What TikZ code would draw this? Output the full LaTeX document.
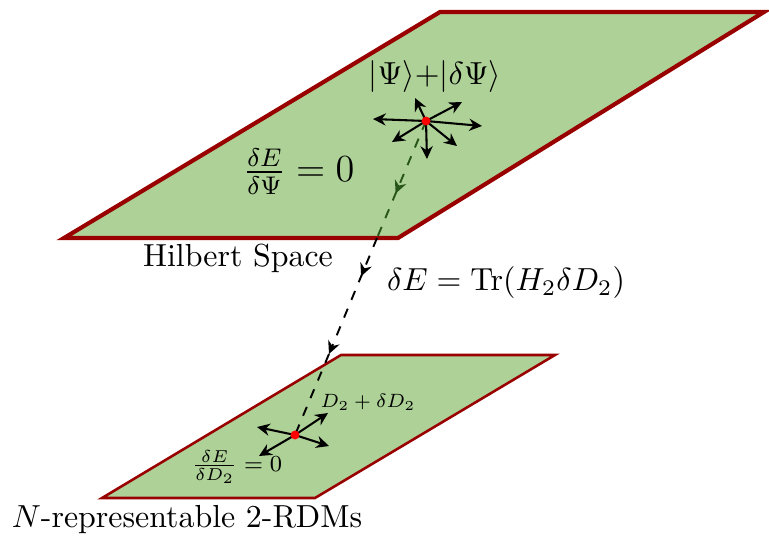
\documentclass[tikz,border=0pt]{standalone}
\usepackage{amsmath}
\usetikzlibrary{arrows.meta,decorations.markings}
\definecolor{planefill}{RGB}{173,209,150}
\definecolor{planeedge}{RGB}{153,0,0}
\definecolor{pathgreen}{RGB}{40,85,25}
\tikzset{
  plane/.style={draw=planeedge, fill=planefill},
  dot/.style={circle, fill=red, inner sep=0pt, minimum size=2.8pt},
  tip/.style={-{Stealth[length=4pt,width=3.8pt]}},
  vec/.style={tip, line width=0.65pt},
  link/.style={dashed, semithick, postaction={decorate},
    decoration={markings, mark=at position #1 with {\arrow{Stealth[length=4pt,width=3.8pt]}}}},
  link/.default=0.5
}
\begin{document}
\begin{tikzpicture}[x=0.3135pt,y=-0.3135pt]
\useasboundingbox (0,0) rectangle (769,539);
\draw[plane, line width=1.3pt] (64,238) -- (440,12) -- (764,12) -- (398,238) -- cycle;
\draw[plane, line width=0.8pt] (102,498) -- (341,355) -- (555,355) -- (315,498) -- cycle;

\coordinate (psi) at (426,121);
\coordinate (rdm) at (295,435);
\coordinate (hedge) at (377,238);
\coordinate (redge) at (329,354);

\draw[link=0.62, draw=pathgreen, color=pathgreen] (psi) -- (hedge);
\draw[link=0.33, tip] (hedge) -- (redge);
\draw[dashed, semithick] (redge) -- (rdm);

\foreach \dx/\dy [count=\i] in {-53/-2, -11/-23, 36/-19, 56/5, 31/25, 1/38, -34/21}
  {\path (psi) ++(\dx,\dy) coordinate (u\i); \draw[vec] (psi) -- (u\i);}
\foreach \dx/\dy [count=\i] in {-38/-8, 33/-22, 34/11, -36/21}
  {\path (rdm) ++(\dx,\dy) coordinate (d\i); \draw[vec] (rdm) -- (d\i);}

\node[dot] (psidot) at (psi) {};
\node[dot] (rdmdot) at (rdm) {};

\node (psilbl) at (435,77) {$|\Psi\rangle{+}|\delta\Psi\rangle$};
\node (hstat) at (299,172) {\large $\frac{\delta E}{\delta\Psi}=0$};
\node (hname) at (238,258) {Hilbert Space};
\node (delE) at (506,283) {$\delta E=\mathrm{Tr}(H_2\delta D_2)$};
\node[scale=0.86] (dlbl) at (368,402) {\scriptsize $D_2+\delta D_2$};
\node[scale=0.9] (dstat) at (237,467) {\footnotesize $\frac{\delta E}{\delta D_2}=0$};
\node (dname) at (187,520) {$N$-representable 2-RDMs};
\end{tikzpicture}
\end{document}
